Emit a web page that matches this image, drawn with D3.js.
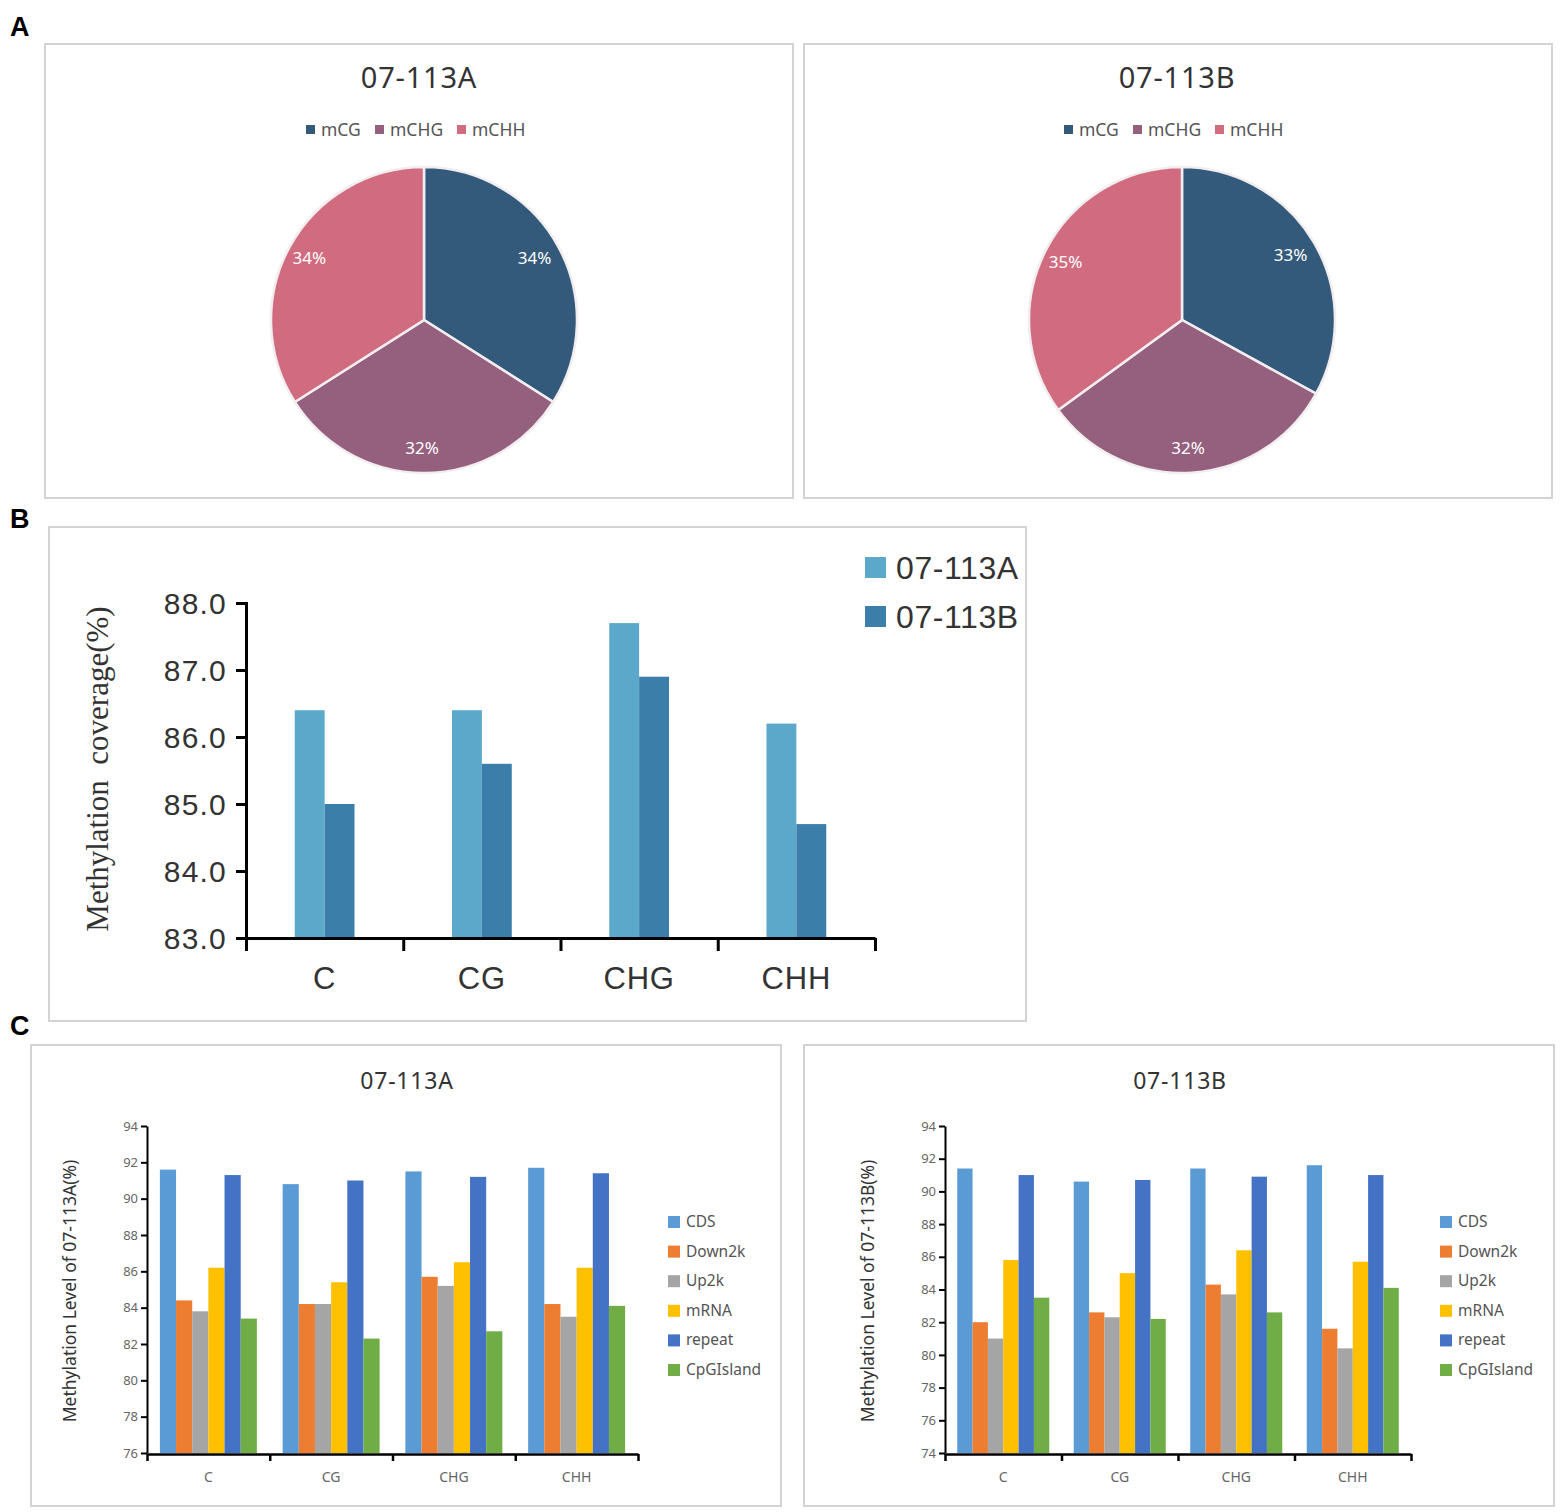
<!DOCTYPE html>
<html>
<head>
<meta charset="utf-8">
<script src="https://cdn.jsdelivr.net/npm/d3@7"></script>
<style>
body{margin:0;background:#fff;}
svg{display:block;}
</style>
</head>
<body>
<svg id="chart" width="1562" height="1512"></svg>
<script>
// ---------- DATA ----------
const pieCategories = ["mCG", "mCHG", "mCHH"];
const pieValuesA = [34, 32, 34];
const pieValuesB = [33, 32, 35];
const sampleNames = ["07-113A", "07-113B"];

const contexts = ["C", "CG", "CHG", "CHH"];
const coverageA = [86.4, 86.4, 87.7, 86.2];
const coverageB = [85.0, 85.6, 86.9, 84.7];
const coverageTicks = [83, 84, 85, 86, 87, 88];

const regions = ["CDS", "Down2k", "Up2k", "mRNA", "repeat", "CpGIsland"];
// 07-113A methylation level per region, across contexts C, CG, CHG, CHH
const levelA_CDS = [91.6, 90.8, 91.5, 91.7];
const levelA_Down2k = [84.4, 84.2, 85.7, 84.2];
const levelA_Up2k = [83.8, 84.2, 85.2, 83.5];
const levelA_mRNA = [86.2, 85.4, 86.5, 86.2];
const levelA_repeat = [91.3, 91.0, 91.2, 91.4];
const levelA_CpGIsland = [83.4, 82.3, 82.7, 84.1];
// 07-113B
const levelB_CDS = [91.4, 90.6, 91.4, 91.6];
const levelB_Down2k = [82.0, 82.6, 84.3, 81.6];
const levelB_Up2k = [81.0, 82.3, 83.7, 80.4];
const levelB_mRNA = [85.8, 85.0, 86.4, 85.7];
const levelB_repeat = [91.0, 90.7, 90.9, 91.0];
const levelB_CpGIsland = [83.5, 82.2, 82.6, 84.1];
const levelTicksA = [76, 78, 80, 82, 84, 86, 88, 90, 92, 94];
const levelTicksB = [74, 76, 78, 80, 82, 84, 86, 88, 90, 92, 94];

// ---------- STYLE ----------
const pieColors = ["#345a7b", "#95607d", "#d16c80"];
const coverageColors = ["#5ca8cb", "#3a7ea9"];
const regionColors = ["#5b9bd5", "#ed7d31", "#a5a5a5", "#ffc000", "#4472c4", "#70ad47"];
const uiFont = "'Noto Sans', 'Open Sans', sans-serif";
const arialFont = "'Liberation Sans', Arial, sans-serif";

const svg = d3.select("#chart");

function box(x, y, w, h) {
  svg.append("rect").attr("x", x).attr("y", y).attr("width", w).attr("height", h)
    .attr("fill", "#fff").attr("stroke", "#d3d3d3").attr("stroke-width", 2);
}
function panelLetter(t, x, y) {
  svg.append("text").attr("x", x).attr("y", y).text(t)
    .attr("font-family", arialFont).attr("font-weight", "bold")
    .attr("font-size", 27).attr("fill", "#000");
}

panelLetter("A", 10, 36);
panelLetter("B", 10, 528);
panelLetter("C", 10, 1035);

// ---------- PANEL A: PIES ----------
function drawPie(values, name, bx, cx) {
  box(bx, 44, 748, 454);
  const g = svg.append("g");
  g.append("text").attr("x", cx - 5).attr("y", 88).attr("text-anchor", "middle")
    .attr("font-family", uiFont).attr("font-size", 29).attr("letter-spacing", 0.8)
    .attr("fill", "#333").text(name);
  // legend
  const lg = g.append("g").attr("transform", `translate(${cx - 118},130)`);
  const offsets = [0, 69, 151];
  pieCategories.forEach((c, i) => {
    lg.append("rect").attr("x", offsets[i]).attr("y", -5).attr("width", 9).attr("height", 9).attr("fill", pieColors[i]);
    lg.append("text").attr("x", offsets[i] + 15).attr("y", 6).attr("font-family", uiFont)
      .attr("font-size", 17.5).attr("fill", "#555").text(c);
  });
  const r = 153;
  const pie = d3.pie().sort(null).value(d => d)(values);
  const arc = d3.arc().innerRadius(0).outerRadius(r);
  const labelArc = d3.arc().innerRadius(r * 0.84).outerRadius(r * 0.84);
  const pg = g.append("g").attr("transform", `translate(${cx},320)`);
  pg.selectAll("path").data(pie).join("path")
    .attr("d", arc).attr("fill", (d, i) => pieColors[i])
    .attr("stroke", "#f2eef0").attr("stroke-width", 2.5);
  pg.selectAll("text").data(pie).join("text")
    .attr("transform", d => {
      const c = labelArc.centroid(d);
      return `translate(${c[0] - 2},${c[1]})`;
    })
    .attr("dy", "0.35em")
    .attr("text-anchor", "middle").attr("font-family", uiFont).attr("font-size", 17)
    .attr("fill", "#fff").text(d => d.data + "%");
}
drawPie(pieValuesA, sampleNames[0], 45, 424);
drawPie(pieValuesB, sampleNames[1], 804, 1182);

// ---------- PANEL B: COVERAGE ----------
(function () {
  box(49, 527, 977, 494);
  const g = svg.append("g");
  const y = d3.scaleLinear().domain([83, 88]).range([938, 603]);
  const x = d3.scaleBand().domain(contexts).range([246, 875]).padding(0);
  const bw = x.bandwidth();
  const x1 = d3.scaleBand().domain(sampleNames).range([bw * 0.31, bw * 0.69]);
  const series = [coverageA, coverageB];
  sampleNames.forEach((s, si) => {
    g.append("g").selectAll("rect").data(contexts).join("rect")
      .attr("x", c => x(c) + x1(s))
      .attr("width", x1.bandwidth())
      .attr("y", (c, i) => y(series[si][i]))
      .attr("height", (c, i) => y(83) - y(series[si][i]))
      .attr("fill", coverageColors[si]);
  });
  const yAxis = g.append("g").attr("transform", "translate(246,0)")
    .call(d3.axisLeft(y).tickValues(coverageTicks).tickFormat(d3.format(".1f")).tickSize(10).tickPadding(9));
  yAxis.select(".domain").attr("stroke-width", 3);
  yAxis.selectAll(".tick line").attr("stroke-width", 3);
  yAxis.selectAll("text").attr("font-family", arialFont)
    .attr("font-size", 30).attr("letter-spacing", 1.2).attr("fill", "#333").attr("dy", "0.36em");
  const edge = d3.scaleLinear().domain([0, contexts.length]).range([246, 875]);
  const xEdges = g.append("g").attr("transform", "translate(0,938)")
    .call(d3.axisBottom(edge).tickValues(d3.range(contexts.length + 1)).tickFormat("").tickSize(13).tickSizeOuter(0));
  xEdges.select(".domain").attr("stroke-width", 3);
  xEdges.selectAll(".tick line").attr("stroke-width", 3);
  const xLab = g.append("g").attr("transform", "translate(0,938)")
    .call(d3.axisBottom(x).tickSize(0).tickPadding(29));
  xLab.select(".domain").remove();
  xLab.selectAll("text").attr("font-family", arialFont)
    .attr("font-size", 31).attr("letter-spacing", 0.8).attr("fill", "#333");
  g.append("text").attr("transform", "translate(108,769) rotate(-90)")
    .attr("text-anchor", "middle").attr("font-family", "'Liberation Serif', 'Times New Roman', serif")
    .attr("font-size", 31).attr("fill", "#333").style("white-space", "pre")
    .text("Methylation  coverage(%)");
  sampleNames.forEach((s, i) => {
    g.append("rect").attr("x", 865).attr("y", 557 + i * 49).attr("width", 21).attr("height", 21).attr("fill", coverageColors[i]);
    g.append("text").attr("x", 896).attr("y", 579 + i * 49).attr("font-family", arialFont)
      .attr("font-size", 32).attr("letter-spacing", 0.6).attr("fill", "#333").text(s);
  });
})();

// ---------- PANEL C: REGION LEVELS ----------
function drawLevels(series, name, ticks, bx, axisX, axisEnd, legendX) {
  box(bx, 1045, 750, 461);
  const g = svg.append("g");
  const y = d3.scaleLinear().domain([ticks[0], ticks[ticks.length - 1]]).range([1453, 1126]);
  const x = d3.scaleBand().domain(contexts).range([axisX, axisEnd]).padding(0);
  const bw = x.bandwidth();
  const x1 = d3.scaleBand().domain(regions).range([bw * 0.105, bw * 0.895]);
  regions.forEach((r, ri) => {
    g.append("g").selectAll("rect").data(contexts).join("rect")
      .attr("x", c => x(c) + x1(r))
      .attr("width", x1.bandwidth())
      .attr("y", (c, i) => y(series[ri][i]))
      .attr("height", (c, i) => y(ticks[0]) - y(series[ri][i]))
      .attr("fill", regionColors[ri]);
  });
  const yAxis = g.append("g").attr("transform", `translate(${axisX},0)`)
    .call(d3.axisLeft(y).tickValues(ticks).tickSize(6).tickPadding(3).tickSizeOuter(0));
  yAxis.select(".domain").attr("stroke-width", 2);
  yAxis.selectAll(".tick line").attr("stroke-width", 2);
  yAxis.selectAll("text").attr("font-family", uiFont).attr("font-size", 13).attr("fill", "#666");
  const edge = d3.scaleLinear().domain([0, contexts.length]).range([axisX, axisEnd]);
  const xEdges = g.append("g").attr("transform", "translate(0,1454)")
    .call(d3.axisBottom(edge).tickValues(d3.range(contexts.length + 1)).tickFormat("").tickSize(7).tickSizeOuter(0));
  xEdges.select(".domain").attr("stroke-width", 2.5);
  xEdges.selectAll(".tick line").attr("stroke-width", 2.5);
  const xLab = g.append("g").attr("transform", "translate(0,1454)")
    .call(d3.axisBottom(x).tickSize(0).tickPadding(18));
  xLab.select(".domain").remove();
  xLab.selectAll("text").attr("font-family", uiFont).attr("font-size", 14).attr("fill", "#666");
  g.append("text").attr("x", (bx + bx + 750) / 2 + 1).attr("y", 1089).attr("text-anchor", "middle")
    .attr("font-family", uiFont).attr("font-size", 23).attr("letter-spacing", 0.8)
    .attr("fill", "#333").text(name);
  g.append("text").attr("transform", `translate(${axisX - 71},1291) rotate(-90)`)
    .attr("text-anchor", "middle").attr("font-family", uiFont).attr("font-size", 17.5)
    .attr("fill", "#333").text(`Methylation Level of ${name}(%)`);
  regions.forEach((r, i) => {
    g.append("rect").attr("x", legendX).attr("y", 1216 + i * 29.6).attr("width", 12).attr("height", 12).attr("fill", regionColors[i]);
    g.append("text").attr("x", legendX + 18).attr("y", 1227 + i * 29.6).attr("font-family", uiFont)
      .attr("font-size", 15.5).attr("fill", "#555").text(r);
  });
}
drawLevels([levelA_CDS, levelA_Down2k, levelA_Up2k, levelA_mRNA, levelA_repeat, levelA_CpGIsland],
  sampleNames[0], levelTicksA, 31, 147, 638, 668);
drawLevels([levelB_CDS, levelB_Down2k, levelB_Up2k, levelB_mRNA, levelB_repeat, levelB_CpGIsland],
  sampleNames[1], levelTicksB, 804, 945, 1411, 1440);
</script>
</body>
</html>
